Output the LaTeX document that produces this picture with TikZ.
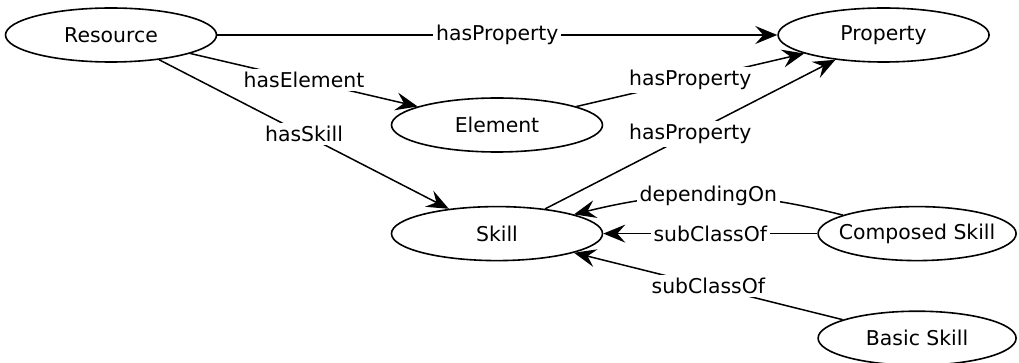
\documentclass[tikz,border=0pt]{standalone}
\usepackage{fontspec}
\setmainfont{DejaVu Sans}
\usepackage{tikz}
\usetikzlibrary{positioning, arrows.meta, shapes.geometric}

\begin{document}
\begin{tikzpicture}[
    x=0.5pt, y=-0.5pt,
    concept/.style={ellipse, draw, line width=0.8pt, minimum width=105.5pt, minimum height=27pt, inner xsep=-12pt, inner ysep=0pt, font=\fontsize{10.2}{12}\selectfont},
    relation/.style={fill=white, inner sep=1.5pt, font=\fontsize{10.2}{12}\selectfont},
    arrow/.style={-{Stealth[length=11pt, width=9pt, inset=4pt]}, line width=0.75pt}
]
\useasboundingbox (0,0) rectangle (1019,363);

% Classes
\node[concept] (res) at (111,35) {Resource};
\node[concept, right=280pt of res] (prop) {Property};
\node[concept] (elem) at (497,125) {Element};
\node[concept, below=26.5pt of elem] (skill) {Skill};
\node[concept, minimum width=99pt, right=107pt of skill] (comp) {Composed Skill};
\node[concept, minimum width=99pt, below=24.5pt of comp] (basic) {Basic Skill};

% Relations
\draw[arrow] (res) -- node[relation] {hasProperty} (prop);
\draw[arrow] (res) -- node[relation] {hasElement} (elem);
\draw[arrow] (res) -- node[relation] {hasSkill} (skill);
\draw[arrow] (elem) -- node[relation] {hasProperty} (prop);
\draw[arrow] (skill) -- node[relation] {hasProperty} (prop);

% Skill hierarchy
\draw[arrow] (comp) to[bend right=14] node[relation] {dependingOn} (skill);
\draw[arrow] (comp) -- node[relation] {subClassOf} (skill);
\draw[arrow] (basic) -- node[relation] {subClassOf} (skill);

\end{tikzpicture}
\end{document}
